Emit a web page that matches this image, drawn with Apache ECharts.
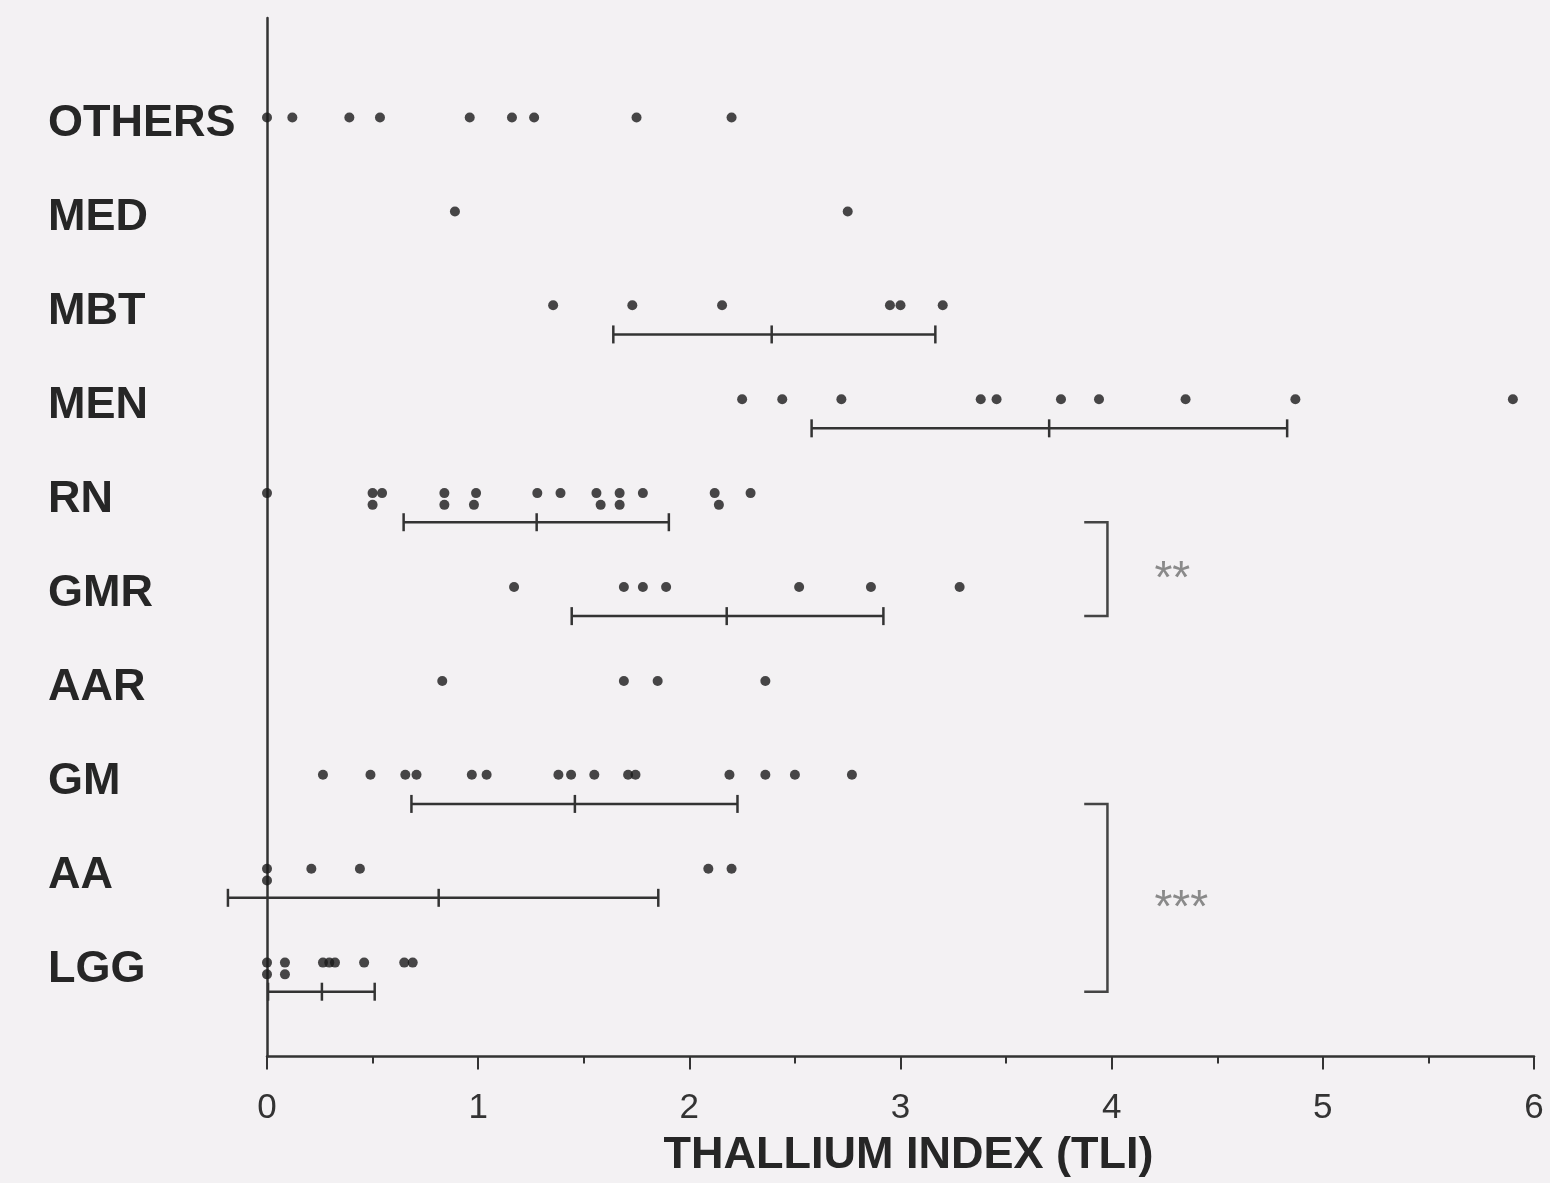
<!DOCTYPE html>
<html>
<head>
<meta charset="utf-8">
<script src="https://cdn.jsdelivr.net/npm/echarts@6/dist/echarts.min.js"></script>
<style>
	html, body { margin: 0; padding: 0; background: #f3f1f3; }
	#chart { width: 1550px; height: 1183px; }
</style>
</head>
<body>
<div id="chart"></div>
<script>
// rows from bottom to top (row value = index + 1)
const categories = ['LGG', 'AA', 'GM', 'AAR', 'GMR', 'RN', 'MEN', 'MBT', 'MED', 'OTHERS'];

// thallium index of each case, per group
const tliLGG = [0, 0, 0.085, 0.085, 0.265, 0.295, 0.322, 0.46, 0.65, 0.69];
const tliAA = [0, 0, 0.21, 0.44, 2.09, 2.2];
const tliGM = [0.265, 0.49, 0.655, 0.708, 0.97, 1.04, 1.38, 1.44, 1.55, 1.71, 1.745, 2.19, 2.36, 2.5, 2.77];
const tliAAR = [0.83, 1.69, 1.85, 2.36];
const tliGMR = [1.17, 1.69, 1.78, 1.89, 2.52, 2.86, 3.28];
const tliRN = [0, 0.5, 0.545, 0.5, 0.84, 0.84, 0.99, 0.98, 1.28, 1.39, 1.56, 1.58, 1.67, 1.67, 1.78, 2.12, 2.14, 2.29];
const tliMEN = [2.25, 2.44, 2.72, 3.38, 3.455, 3.76, 3.94, 4.35, 4.87, 5.9];
const tliMBT = [1.355, 1.73, 2.155, 2.95, 3.0, 3.2];
const tliMED = [0.89, 2.75];
const tliOTHERS = [0, 0.12, 0.39, 0.535, 0.96, 1.16, 1.265, 1.75, 2.2];

// mean +/- SD bars (same order as categories, null = no bar)
const sdLow  = [0.005, -0.185, 0.684, null, 1.443, 0.647, 2.579, 1.64, null, null];
const sdMean = [0.26, 0.813, 1.458, null, 2.177, 1.277, 3.704, 2.39, null, null];
const sdHigh = [0.51, 1.853, 2.228, null, 2.919, 1.903, 4.831, 3.165, null, null];

// significance brackets: from row to row
const bracketFrom = ['RN', 'GM'];
const bracketTo = ['GMR', 'LGG'];
const bracketMarks = ['**', '***'];

const xTicks = [0, 1, 2, 3, 4, 5, 6];

const groups = [tliLGG, tliAA, tliGM, tliAAR, tliGMR, tliRN, tliMEN, tliMBT, tliMED, tliOTHERS];

const barDrop = 0.31;     // bar sits under the row of dots
const stackStep = 0.125;  // coincident dots are stacked downwards

// dots: points that overlap an earlier one get pushed below it
let dots = [];
groups.forEach(function(vals, i) {
	const row = i + 1;
	vals.forEach(function(v, k) {
		let level = 0;
		for (let j = 0; j < k; j++) {
			if (Math.abs(vals[j] - v) < 0.025) level++;
		}
		dots.push([v, row - level * stackStep]);
	});
});

let bars = [];
categories.forEach(function(c, i) {
	if (sdMean[i] !== null) bars.push([sdLow[i], sdMean[i], sdHigh[i], i + 1]);
});

let brackets = bracketFrom.map(function(c, i) {
	return [categories.indexOf(c) + 1, categories.indexOf(bracketTo[i]) + 1, i];
});

const ink = '#262626';
const chart = echarts.init(document.getElementById('chart'));
chart.setOption({
	backgroundColor: '#f3f1f3',
	animation: false,
	grid: { left: 267, right: 16, top: 18, bottom: 122, containLabel: false },
	xAxis: {
		type: 'value',
		min: 0, max: 6, interval: 1,
		name: 'THALLIUM INDEX (TLI)',
		nameLocation: 'middle',
		nameGap: 99,
		nameTextStyle: {
			fontFamily: 'Liberation Sans, Arial, sans-serif',
			fontWeight: 'bold', fontSize: 45, color: ink,
			verticalAlign: 'middle',
			padding: [0, 0, 0, 16]
		},
		axisLine: { show: true, lineStyle: { color: '#333', width: 2.5 } },
		axisTick: { show: true, length: 13, lineStyle: { color: '#333', width: 2 } },
		minorTick: { show: true, splitNumber: 2, length: 7, lineStyle: { color: '#333', width: 2 } },
		splitLine: { show: false },
		minorSplitLine: { show: false },
		axisLabel: {
			margin: 34,
			fontFamily: 'Liberation Sans, Arial, sans-serif',
			fontSize: 35, color: '#333',
			formatter: function(v) { return xTicks.indexOf(v) >= 0 ? String(v) : ''; }
		}
	},
	yAxis: {
		type: 'value',
		min: 0, max: 11.06, interval: 1,
		axisLine: { show: true, lineStyle: { color: '#333', width: 2.5 } },
		axisTick: { show: false },
		splitLine: { show: false },
		axisLabel: {
			align: 'left',
			margin: 219,
			formatter: function(v) {
				const name = categories[v - 1];
				return name ? '{n|' + name + '}' : '';
			},
			rich: {
				n: {
					fontFamily: 'Liberation Sans, Arial, sans-serif',
					fontWeight: 'bold', fontSize: 45, color: ink,
					padding: [13, 0, 0, 0]
				}
			}
		}
	},
	series: [
		{
			type: 'scatter',
			data: dots,
			symbol: 'circle',
			symbolSize: 10,
			itemStyle: { color: '#1a1a1a' },
			silent: true,
			z: 5
		},
		{
			type: 'custom',
			data: bars,
			silent: true,
			renderItem: function(params, api) {
				const y = api.value(3) - barDrop;
				const l = api.coord([api.value(0), y]);
				const m = api.coord([api.value(1), y]);
				const h = api.coord([api.value(2), y]);
				const cap = 9;
				const st = { stroke: '#333', lineWidth: 2.5 };
				return {
					type: 'group',
					children: [
						{ type: 'line', shape: { x1: l[0], y1: l[1], x2: h[0], y2: h[1] }, style: st },
						{ type: 'line', shape: { x1: l[0], y1: l[1] - cap, x2: l[0], y2: l[1] + cap }, style: st },
						{ type: 'line', shape: { x1: m[0], y1: m[1] - cap, x2: m[0], y2: m[1] + cap }, style: st },
						{ type: 'line', shape: { x1: h[0], y1: h[1] - cap, x2: h[0], y2: h[1] + cap }, style: st }
					]
				};
			}
		},
		{
			type: 'custom',
			data: brackets,
			silent: true,
			renderItem: function(params, api) {
				const top = api.coord([3.87, api.value(0) - barDrop]);
				const bot = api.coord([3.87, api.value(1) - barDrop]);
				const right = api.coord([3.98, 0])[0];
				const midY = (top[1] + bot[1]) / 2;
				return {
					type: 'group',
					children: [
						{
							type: 'polyline',
							shape: { points: [[top[0], top[1]], [right, top[1]], [right, bot[1]], [bot[0], bot[1]]] },
							style: { stroke: '#444', lineWidth: 2.5, fill: null }
						},
						{
							type: 'text',
							x: right + 47,
							y: midY + 11,
							style: {
								text: bracketMarks[api.value(2)],
								fontFamily: 'Liberation Sans, Arial, sans-serif',
								fontSize: 46,
								fill: '#8a8a8a',
								align: 'left',
								verticalAlign: 'middle'
							}
						}
					]
				};
			}
		}
	]
});
</script>
</body>
</html>
